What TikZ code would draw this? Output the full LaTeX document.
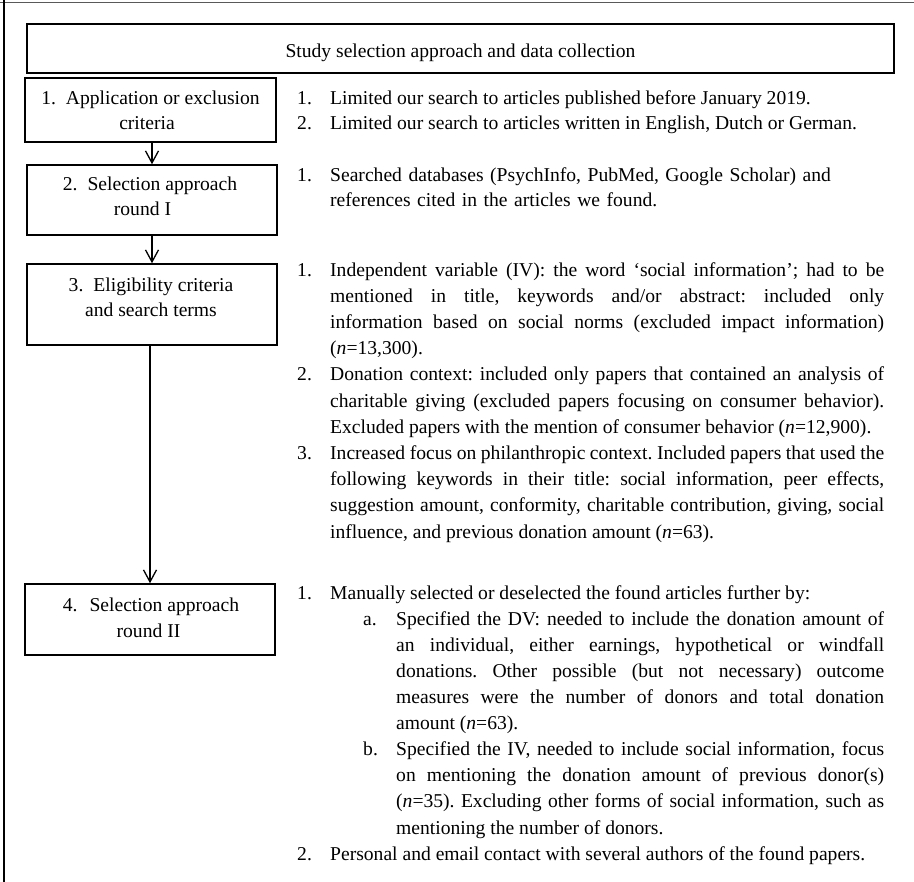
\documentclass[tikz,border=0pt]{standalone}
\usepackage{fontspec}
\setmainfont{Liberation Serif}
\usetikzlibrary{arrows.meta}
\frenchspacing
\newcommand\fstrut{\rule{0pt}{14pt}}
\newcommand\itA[2]{\hangindent=33pt\hangafter=1\noindent\makebox[33pt][l]{#1}#2\par}
\newcommand\itB[2]{\hangindent=99pt\hangafter=1\noindent\hspace*{66pt}\makebox[33pt][l]{#1}#2\par}
\begin{document}
\begin{tikzpicture}[x=1pt,y=-1pt,
  box/.style={draw,line width=1.5pt,rectangle,inner sep=0pt},
  boxtext/.style={anchor=north,align=center,inner sep=0pt,font=\fontsize{19.6}{25}\selectfont},
  coltext/.style={anchor=north west,inner sep=0pt,text width=587pt,align=justify},
  arr/.style={line width=1.3pt,-{Straight Barb[length=12pt,width=13pt,line width=1.3pt]}}]
\useasboundingbox (0,0) rectangle (914,882);
% frame (cropped)
\draw[gray!70!black,line width=1.3pt] (0,2.7) -- (914,2.7);
\draw[line width=2pt] (3.5,0) -- (3.5,882);
% title
\node[box,line width=2pt,minimum width=867pt,minimum height=49pt] (title) at (460.5,48.5) {};
\node[anchor=base,inner sep=0pt,font=\fontsize{19.6}{24}\selectfont] (titletext) at (460.5,58) {Study selection approach and data collection};
% left boxes
\node[box,minimum width=251pt,minimum height=64pt] (b1) at (150.5,110) {};
\node[box,minimum width=250pt,minimum height=70pt] (b2) at (152,200) {};
\node[box,minimum width=250pt,minimum height=81pt] (b3) at (152,304.5) {};
\node[box,minimum width=250pt,minimum height=71pt] (b4) at (150,619.5) {};
\node[boxtext] (t1) at (150.5,90) {\fstrut 1.\hspace{10pt}Application or exclusion\\criteria\hspace*{7pt}};
\node[boxtext] (t2) at (150,176) {\fstrut 2.\hspace{10pt}Selection approach\\round I\hspace*{15pt}};
\node[boxtext] (t3) at (151,277) {\fstrut 3.\hspace{10pt}Eligibility criteria\\and search terms};
\node[boxtext,font=\fontsize{19.6}{26}\selectfont] (t4) at (151,597) {\fstrut 4.\hspace{12pt}Selection approach\\round II\hspace*{5pt}};
% arrows
\draw[arr] (b2.north |- b1.south) -- (b2.north);
\draw[arr] (b2.south) -- (b3.north);
\draw[arr] (b4.north |- b3.south) -- (b4.north);
% right column
\node[coltext,font=\fontsize{19.6}{25}\selectfont] (c1) at (297,90) {%
\itA{\fstrut 1.}{Limited our search to articles published before January 2019.}%
\itA{2.}{Limited our search to articles written in English, Dutch or German.}};
\node[coltext,font=\fontsize{19.6}{25}\selectfont,align=left] (c2) at (297,167) {%
\itA{\fstrut 1.}{Searched databases (PsychInfo, PubMed, Google Scholar) and\newline references cited in the articles we found.}};
\node[coltext,font=\fontsize{19.6}{26.2}\selectfont] (c3) at (297,262) {%
\itA{\fstrut 1.}{Independent variable (IV): the word `social information'; had to be\linebreak mentioned in title, keywords and/or abstract: included only\linebreak information based on social norms (excluded impact information)\linebreak (\textit{n}=13,300).}%
\itA{2.}{Donation context: included only papers that contained an analysis of\linebreak charitable giving (excluded papers focusing on consumer behavior).\linebreak Excluded papers with the mention of consumer behavior (\textit{n}=12,900).}%
\itA{3.}{Increased focus on philanthropic context. Included papers that used the\linebreak following keywords in their title: social information, peer effects,\linebreak suggestion amount, conformity, charitable contribution, giving, social\linebreak influence, and previous donation amount (\textit{n}=63).}};
\node[coltext,font=\fontsize{19.6}{26.1}\selectfont] (c4) at (297,585) {%
\itA{\fstrut 1.}{Manually selected or deselected the found articles further by:}%
\itB{a.}{Specified the DV: needed to include the donation amount of\linebreak an individual, either earnings, hypothetical or windfall\linebreak donations. Other possible (but not necessary) outcome\linebreak measures were the number of donors and total donation\linebreak amount (\textit{n}=63).}%
\itB{b.}{Specified the IV, needed to include social information, focus\linebreak on mentioning the donation amount of previous donor(s)\linebreak (\textit{n}=35). Excluding other forms of social information, such as\linebreak mentioning the number of donors.}%
\itA{2.}{Personal and email contact with several authors of the found papers.}};
\end{tikzpicture}
\end{document}
